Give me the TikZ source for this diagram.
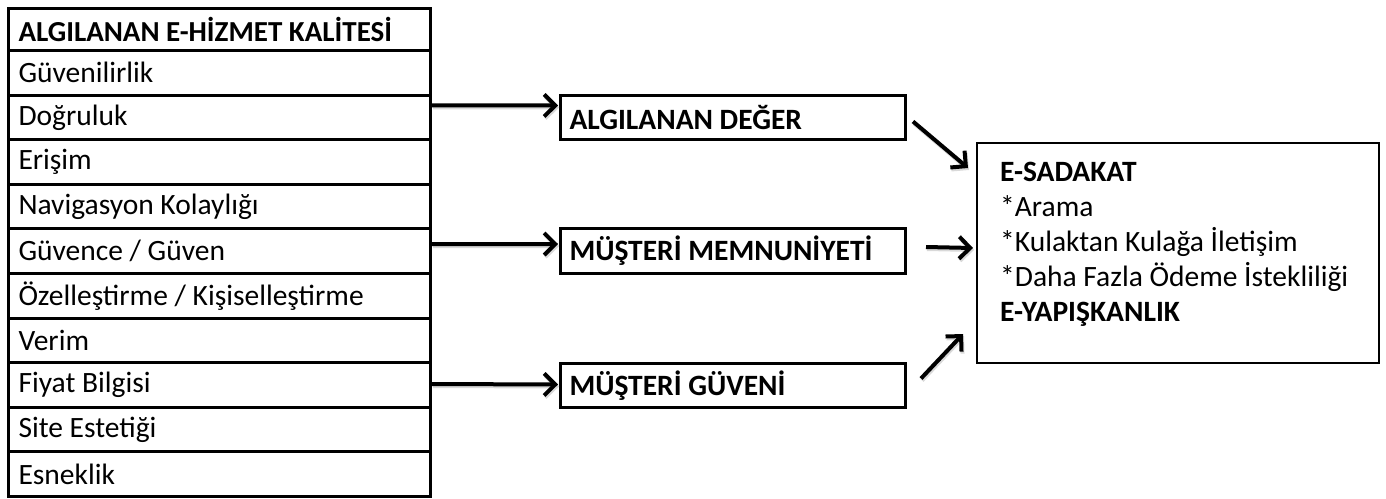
\documentclass[tikz,border=0pt]{standalone}
\usepackage{fontspec}
\setmainfont{Carlito}
\usetikzlibrary{arrows.meta,calc}
\begin{document}
\begin{tikzpicture}[x=1pt,y=-1pt,
  cell/.style={draw, line width=3pt, anchor=north west, minimum width=422pt,
    inner xsep=10pt, font=\fontsize{29.5}{34}\selectfont},
  midbox/.style={draw, line width=3pt, anchor=north west, minimum width=345pt,
    inner xsep=9pt, font=\fontsize{29.5}{34}\selectfont\bfseries},
  bigarrow/.style={line width=4pt, -{Straight Barb[length=11pt,width=22pt,line width=4pt]},
    preaction={draw=black!15, line width=4pt, transform canvas={shift={(1pt,-2pt)}}}}
]
\useasboundingbox (0,0) rectangle (1386,498);
% left table
\node[cell, minimum height=42pt, font=\fontsize{29}{34}\selectfont\bfseries] (h) at (7,7) {\makebox[402pt][l]{ALGILANAN E-HİZMET KALİTESİ}};
\foreach \i/\t in {1/{Güvenilirlik},2/{Doğruluk},3/{Erişim},4/{Navigasyon Kolaylığı},5/{Güvence / Güven},
  6/{Özelleştirme / Kişiselleştirme},7/{Verim},8/{Fiyat Bilgisi},9/{Site Estetiği},10/{Esneklik}}{
  \node[cell, minimum height=44.6pt] (r\i) at (7,{49+(\i-1)*44.6}) {\makebox[402pt][l]{\t}};
}
% middle boxes
\node[midbox, minimum height=44pt] (v1) at (559,94) {\makebox[327pt][l]{ALGILANAN DEĞER}};
\node[midbox, minimum height=45pt] (v2) at (559,227) {\makebox[327pt][l]{MÜŞTERİ MEMNUNİYETİ}};
\node[midbox, minimum height=44pt] (v3) at (559,362) {\makebox[327pt][l]{MÜŞTERİ GÜVENİ}};
% right box
\node[draw, line width=2pt, anchor=north west, minimum width=402pt, minimum height=220pt] (es) at (976,142) {};
\node[anchor=north west, align=left, inner sep=0pt, font=\fontsize{29.5}{35}\selectfont] (est) at ($(es.north west)+(24,20)$)
  {\textbf{E-SADAKAT}\\ *Arama\\ *Kulaktan Kulağa İletişim\\ *Daha Fazla Ödeme İstekliliği\\ \textbf{E-YAPIŞKANLIK}};
% arrows
\draw[bigarrow] ($(r2.east)+(0,-12)$) -- ($(v1.west)+(-1,-12)$);
\draw[bigarrow] ($(r5.east)+(0,-7)$) -- ($(v2.west)+(-1,-7)$);
\draw[bigarrow] ($(r8.east)+(0,-1)$) -- ($(v3.west)+(-1,-1)$);
\draw[bigarrow] ($(v1.east)+(6,4)$) -- ($(es.north west)+(-8,26)$);
\draw[bigarrow] ($(v2.east)+(19,-4)$) -- ($(es.west)+(-3,-5)$);
\draw[bigarrow] ($(v3.east)+(14,-7)$) -- ($(es.south west)+(-13,-30)$);
\end{tikzpicture}
\end{document}
